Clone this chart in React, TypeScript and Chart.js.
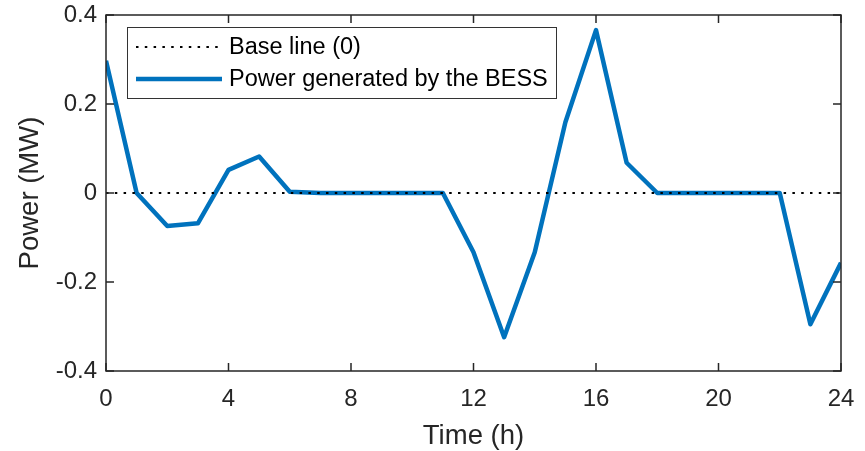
import React, { useEffect, useRef } from "react";
import { Chart, registerables } from "chart.js";

Chart.register(...registerables);

const hours = [0, 1, 2, 3, 4, 5, 6, 7, 8, 9, 10, 11, 12, 13, 14, 15, 16, 17, 18, 19, 20, 21, 22, 23, 24];
const bessPower = [0.297, 0, -0.074, -0.068, 0.052, 0.082, 0.003, 0, 0, 0, 0, 0, -0.133, -0.324, -0.133, 0.159, 0.366, 0.068, 0, 0, 0, 0, 0, -0.295, -0.157];
const baseHours = [0, 24];
const baseValues = [0, 0];
const xTicks = [0, 4, 8, 12, 16, 20, 24];
const yTicks = [-0.4, -0.2, 0, 0.2, 0.4];
const seriesLabels = ["Base line (0)", "Power generated by the BESS"];

const FONT = "'Liberation Sans', Arial, Helvetica, sans-serif";
const INK = "#262626";
const BLUE = "#0072BD";

const framePlugin = {
  id: "matlabFrame",
  afterDatasetsDraw(chart: any) {
    const { ctx, chartArea: a, scales } = chart;
    const x = scales.x;
    const y = scales.y;
    ctx.save();
    ctx.strokeStyle = INK;
    ctx.lineWidth = 1.5;
    ctx.beginPath();
    ctx.rect(a.left, a.top, a.right - a.left, a.bottom - a.top);
    ctx.stroke();
    const tl = 8;
    ctx.beginPath();
    xTicks.forEach((v) => {
      const px = x.getPixelForValue(v);
      ctx.moveTo(px, a.bottom);
      ctx.lineTo(px, a.bottom - tl);
      ctx.moveTo(px, a.top);
      ctx.lineTo(px, a.top + tl);
    });
    yTicks.forEach((v) => {
      const py = y.getPixelForValue(v);
      ctx.moveTo(a.left, py);
      ctx.lineTo(a.left + tl, py);
      ctx.moveTo(a.right, py);
      ctx.lineTo(a.right - tl, py);
    });
    ctx.stroke();

    // legend box inside plot area
    const bx = a.left + 21;
    const by = a.top + 12;
    const bw = 429;
    const bh = 71;
    ctx.fillStyle = "#ffffff";
    ctx.fillRect(bx, by, bw, bh);
    ctx.lineWidth = 1;
    ctx.strokeStyle = "#333333";
    ctx.strokeRect(bx + 0.5, by + 0.5, bw, bh);
    const rows = [by + 20, by + 52];
    const ds = chart.data.datasets;
    ctx.font = `23.5px ${FONT}`;
    ctx.textBaseline = "middle";
    ctx.textAlign = "left";
    ds.forEach((d: any, i: number) => {
      ctx.save();
      ctx.strokeStyle = d.borderColor;
      ctx.lineWidth = d.borderWidth;
      ctx.setLineDash(d.borderDash || []);
      ctx.beginPath();
      ctx.moveTo(bx + 9, rows[i]);
      ctx.lineTo(bx + 95, rows[i]);
      ctx.stroke();
      ctx.restore();
      ctx.fillStyle = "#000000";
      ctx.fillText(d.label, bx + 102, rows[i] + 1);
    });
    ctx.restore();
  },
};

export default function App() {
  const ref = useRef<HTMLCanvasElement | null>(null);
  useEffect(() => {
    document.body.style.margin = "0";
    const canvas = ref.current!;
    const chart = new Chart(canvas, {
      type: "line",
      data: {
        datasets: [
          {
            label: seriesLabels[0],
            data: baseHours.map((h, i) => ({ x: h, y: baseValues[i] })),
            borderColor: "#000000",
            borderWidth: 2,
            borderDash: [2.5, 6.3],
            pointRadius: 0,
            tension: 0,
          },
          {
            label: seriesLabels[1],
            data: hours.map((h, i) => ({ x: h, y: bessPower[i] })),
            borderColor: BLUE,
            borderWidth: 4.5,
            pointRadius: 0,
            tension: 0,
            borderJoinStyle: "round",
          },
        ],
      },
      options: {
        responsive: false,
        animation: false,
        layout: { padding: { top: 15, right: 24, left: 0, bottom: 0 } },
        plugins: { legend: { display: false }, tooltip: { enabled: false } },
        scales: {
          x: {
            type: "linear",
            min: 0,
            max: 24,
            afterBuildTicks: (s: any) => {
              s.ticks = xTicks.map((v) => ({ value: v }));
            },
            afterFit: (s: any) => {
              s.height = 80;
              s.paddingLeft = 0;
              s.paddingRight = 0;
            },
            grid: { display: false, drawTicks: false },
            border: { display: false },
            ticks: {
              color: INK,
              font: { family: FONT, size: 24 },
              padding: 14,
              maxRotation: 0,
              autoSkip: false,
              callback: (v: any) => String(v),
            },
            title: {
              display: true,
              text: "Time (h)",
              color: INK,
              font: { family: FONT, size: 27.5 },
              padding: { top: 0, bottom: -2 },
            },
          },
          y: {
            type: "linear",
            min: -0.4,
            max: 0.4,
            afterBuildTicks: (s: any) => {
              s.ticks = yTicks.map((v) => ({ value: v }));
            },
            afterFit: (s: any) => {
              s.width = 106;
              s.paddingTop = 0;
              s.paddingBottom = 0;
            },
            grid: { display: false, drawTicks: false },
            border: { display: false },
            ticks: {
              color: INK,
              font: { family: FONT, size: 24 },
              padding: 9,
              autoSkip: false,
              callback: (v: any) => (Math.abs(v) < 1e-9 ? "0" : String(Math.round(v * 10) / 10)),
            },
            title: {
              display: true,
              text: "Power (MW)",
              color: INK,
              font: { family: FONT, size: 27.5 },
              padding: { top: 14, bottom: 0 },
            },
          },
        },
      },
      plugins: [framePlugin],
    });
    return () => chart.destroy();
  }, []);
  return (
    <div style={{ width: 865, height: 451 }}>
      <canvas ref={ref} width={865} height={451} style={{ display: "block" }} />
    </div>
  );
}
